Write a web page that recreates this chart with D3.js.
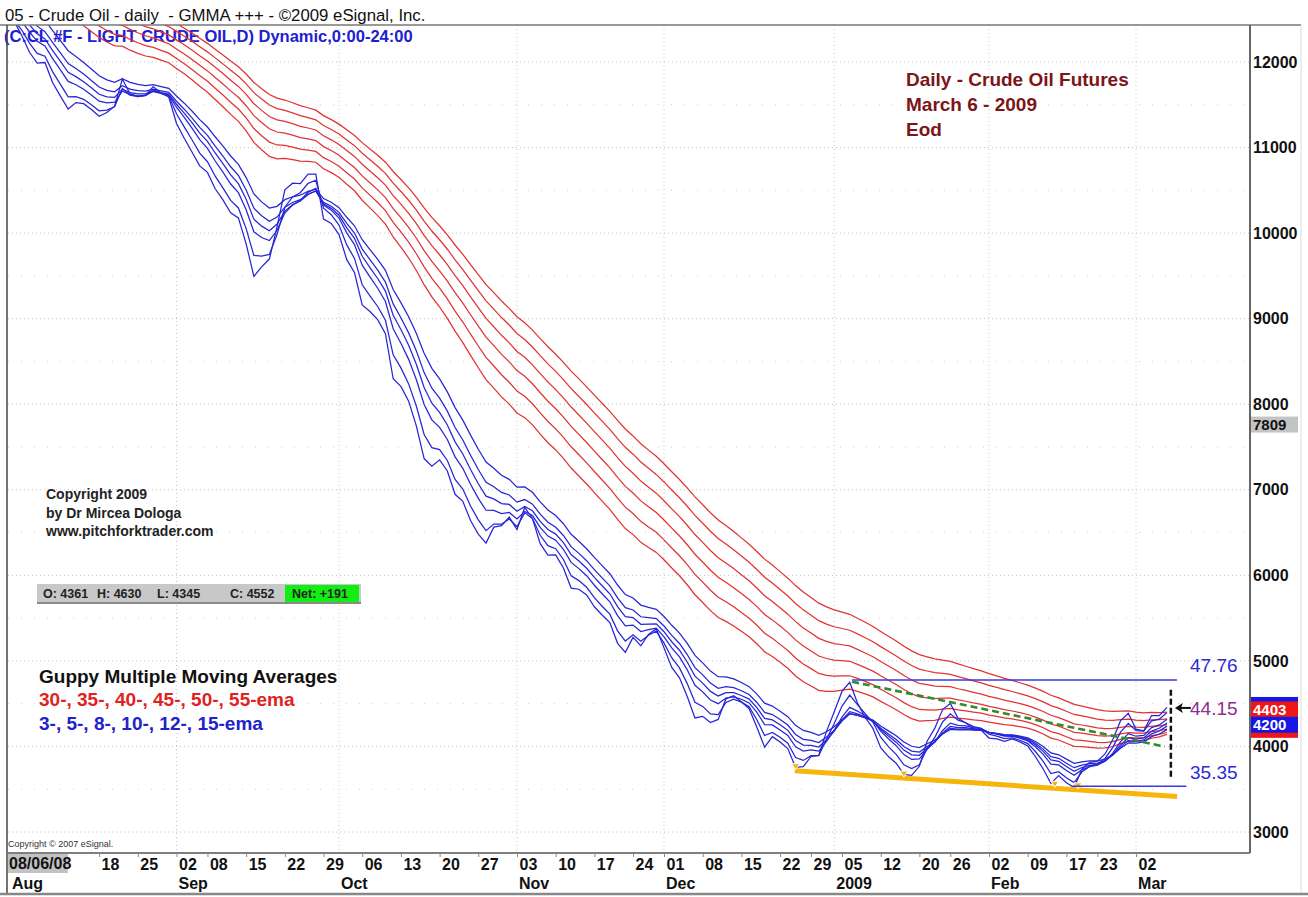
<!DOCTYPE html>
<html>
<head>
<meta charset="utf-8">
<script src="https://cdn.jsdelivr.net/npm/d3@7"></script>
<style>
  body { margin: 0; background: #fff; }
  svg { display: block; }
</style>
</head>
<body>
<svg id="chart" width="1308" height="897"></svg>
<script>
// Daily closes of CL #F, Aug 1 2008 .. Mar 6 2009 (price x 100, as on the axis)
const closesAug = [12510, 12141, 11917, 11858, 12002, 11520, 11445, 11301, 11600, 11501, 11377,
                   11287, 11453, 11556, 12118, 11459, 11563, 11627, 11815, 11559, 11546];
const closesSep = [10971, 10935, 10789, 10623, 10634, 10326, 10258, 10087, 10118, 9571, 9115,
                   9716, 9788, 10455, 10937, 10661, 10573, 10802, 10689, 9637, 10064];
const closesOct = [9853, 9397, 9388, 8781, 9006, 8895, 8659, 7770, 8119, 7863, 7454, 6985,
                   7185, 7425, 7089, 6675, 6784, 6415, 6322, 6273, 6750, 6596, 6781];
const closesNov = [6391, 7053, 6530, 6077, 6104, 6241, 5933, 5616, 5824, 5704, 5495, 5439,
                   5362, 4962, 4993, 5450, 5077, 5444, 5443];
const closesDec = [4928, 4696, 4679, 4367, 4081, 4371, 4207, 4352, 4798, 4628, 4451, 4360,
                   4006, 3760, 4236, 3991, 3898, 3535, 3771, 4002, 3903, 4460];
const closesJan = [4634, 4881, 4858, 4263, 4170, 4083, 3759, 3778, 3728, 3540, 3651, 3874,
                   4355, 4367, 4647, 4573, 4158, 4216, 4144, 4168];
const closesFeb = [4008, 4078, 4032, 4117, 4017, 3956, 3755, 3594, 3398, 3751, 3493, 3462,
                   3948, 3894, 3844, 3996, 4250, 4522, 4476];
const closesMar = [4015, 4165, 4538, 4361, 4552];

const holidays = ["2008-09-01", "2008-11-27", "2008-12-25", "2009-01-01", "2009-01-19", "2009-02-16"];

// GMMA periods and each average's value on the first bar
const fastPeriods = [3, 5, 8, 10, 12, 15];
const fastStart   = [12480, 12490, 12570, 12640, 12720, 12850];
const slowPeriods = [30, 35, 40, 45, 50, 55];
const slowStart   = [13050, 13150, 13240, 13320, 13390, 13450];

const yTicks      = [3000, 4000, 5000, 6000, 7000, 8000, 9000, 10000, 11000, 12000];
const yMinorTicks = [3500, 4500, 5500, 6500, 7500, 8500, 9500, 10500, 11500];

// drawn annotations (bar index, price)
const highLevel   = 4776;   // 47.76
const lastLevel   = 4415;   // 44.15
const lowLevel    = 3535;   // 35.35
const downTrend   = [[108.3, 4757], [148.7, 3998]];
const supportLine = [[100.9, 3717], [150.3, 3414]];
const supportTouches = [101, 115, 134.5, 137.5];
const lastBarMarker  = [149.5, 4664, 3636];

const ohlc = [["O: 4361", 43], ["H: 4630", 97], ["L: 4345", 157], ["C: 4552", 230]];
const netText = "Net: +191";

const FONT = "'Liberation Sans', Arial, Helvetica, sans-serif";
const BLUE = "#2626d6", RED = "#e23232";

const closes = [].concat(closesAug, closesSep, closesOct, closesNov, closesDec, closesJan, closesFeb, closesMar);

const keyFmt = d3.timeFormat("%Y-%m-%d");
const holidaySet = new Set(holidays);
const dates = d3.timeDay.range(new Date(2008, 7, 1), new Date(2009, 2, 7))
  .filter(d => d.getDay() !== 0 && d.getDay() !== 6 && !holidaySet.has(keyFmt(d)));

function ema(values, n, start) {
  const k = 2 / (n + 1);
  let prev = start;
  return values.map((v, i) => {
    if (i > 0) prev = prev + k * (v - prev);
    return prev;
  });
}

const fast = fastPeriods.map((p, i) => ema(closes, p, fastStart[i]));
const slow = slowPeriods.map((p, i) => ema(closes, p, slowStart[i]));

const plot = { l: 8, r: 1250, t: 25, b: 853 };
const svg = d3.select("#chart").attr("font-family", FONT);

const x = d3.scaleLinear().domain([0, dates.length - 1]).range([14, 1167]);
const y = d3.scaleLinear().domain([3000, 12000]).range([832, 62]);

svg.append("rect").attr("width", 1308).attr("height", 897).attr("fill", "#fff");

svg.append("clipPath").attr("id", "plotClip")
  .append("rect")
  .attr("x", plot.l).attr("y", plot.t)
  .attr("width", plot.r - plot.l).attr("height", plot.b - plot.t);

// month starts
const monthIdx = d3.range(dates.length).filter(i => i === 0 || dates[i].getMonth() !== dates[i - 1].getMonth());

// grid
const grid = svg.append("g");
grid.selectAll(".hmaj").data(yTicks).join("line")
  .attr("x1", plot.l).attr("x2", plot.r)
  .attr("y1", d => y(d)).attr("y2", d => y(d))
  .attr("stroke", "#c4c4c4").attr("stroke-dasharray", "1,3");
grid.selectAll(".hmin").data(yMinorTicks).join("line")
  .attr("x1", plot.l).attr("x2", plot.r)
  .attr("y1", d => y(d)).attr("y2", d => y(d))
  .attr("stroke", "#d0d0d0").attr("stroke-dasharray", "1,12");
grid.selectAll(".vmaj").data(monthIdx.filter(i => i > 0)).join("line")
  .attr("x1", d => x(d)).attr("x2", d => x(d))
  .attr("y1", plot.t).attr("y2", plot.b)
  .attr("stroke", "#c4c4c4").attr("stroke-dasharray", "1,3");

// subtitle sits under the averages
svg.append("text").attr("x", 4).attr("y", 42)
  .attr("font-size", 16.5).attr("font-weight", "bold").attr("fill", "#2020d0")
  .text("(C:CL #F - LIGHT CRUDE OIL,D) Dynamic,0:00-24:00");

// averages
const line = d3.line().x((d, i) => x(i)).y(d => y(d));
const lines = svg.append("g").attr("clip-path", "url(#plotClip)").attr("fill", "none");
lines.selectAll(".slow").data(slow).join("path")
  .attr("d", line).attr("stroke", RED).attr("stroke-width", 1.25);
lines.selectAll(".fast").data(fast).join("path")
  .attr("d", line).attr("stroke", BLUE).attr("stroke-width", 1.25);

// annotations
const ann = svg.append("g").attr("clip-path", "url(#plotClip)");
ann.append("line")
  .attr("x1", x(supportLine[0][0])).attr("y1", y(supportLine[0][1]))
  .attr("x2", x(supportLine[1][0])).attr("y2", y(supportLine[1][1]))
  .attr("stroke", "#f5b50a").attr("stroke-width", 5);
const supY = i => {
  const [a, b] = supportLine;
  return a[1] + (b[1] - a[1]) * (i - a[0]) / (b[0] - a[0]);
};
ann.selectAll(".touch").data(supportTouches).join("path")
  .attr("d", i => {
    const cx = x(i), cy = y(supY(i)) - 3;
    return `M${cx - 4},${cy - 4}L${cx + 4},${cy - 4}L${cx},${cy + 2}Z`;
  })
  .attr("fill", "#f5b50a").attr("stroke", "#fff").attr("stroke-width", 1);

ann.append("line")
  .attr("x1", x(108.3)).attr("x2", x(150.3))
  .attr("y1", y(highLevel)).attr("y2", y(highLevel))
  .attr("stroke", "#3a3ae0").attr("stroke-width", 1.5);
ann.append("line")
  .attr("x1", x(136.8)).attr("x2", x(151.5))
  .attr("y1", y(lowLevel)).attr("y2", y(lowLevel))
  .attr("stroke", "#3a3ae0").attr("stroke-width", 1.5);
ann.append("line")
  .attr("x1", x(downTrend[0][0])).attr("y1", y(downTrend[0][1]))
  .attr("x2", x(downTrend[1][0])).attr("y2", y(downTrend[1][1]))
  .attr("stroke", "#2e8b2e").attr("stroke-width", 2.6).attr("stroke-dasharray", "7,4");
ann.append("line")
  .attr("x1", x(lastBarMarker[0])).attr("x2", x(lastBarMarker[0]))
  .attr("y1", y(lastBarMarker[1])).attr("y2", y(lastBarMarker[2]))
  .attr("stroke", "#111").attr("stroke-width", 2.5).attr("stroke-dasharray", "6,3");

const ay = y(lastLevel) - 3;
const ax = x(lastBarMarker[0]) + 4;
ann.append("line").attr("x1", ax + 5).attr("x2", ax + 16).attr("y1", ay).attr("y2", ay)
  .attr("stroke", "#111").attr("stroke-width", 2);
ann.append("path").attr("d", `M${ax},${ay}L${ax + 8},${ay - 5}L${ax + 6},${ay}L${ax + 8},${ay + 5}Z`)
  .attr("fill", "#111");

const labX = x(dates.length - 1) + 23;
svg.append("text").attr("x", labX).attr("y", y(highLevel) - 8)
  .attr("font-size", 19).attr("fill", "#2b2bd8").text(d3.format(".2f")(highLevel / 100));
svg.append("text").attr("x", labX).attr("y", y(lastLevel) + 4)
  .attr("font-size", 19).attr("fill", "#8e2e8e").text(d3.format(".2f")(lastLevel / 100));
svg.append("text").attr("x", labX).attr("y", y(lowLevel) - 7)
  .attr("font-size", 19).attr("fill", "#2b2bd8").text(d3.format(".2f")(lowLevel / 100));

// text blocks
svg.append("text").attr("x", 5).attr("y", 21)
  .attr("font-size", 16.8).attr("fill", "#111")
  .text("05 - Crude Oil - daily  - GMMA +++ - \u00a92009 eSignal, Inc.")
  .attr("xml:space", "preserve").style("white-space", "pre");

const info = svg.append("g").attr("font-size", 19).attr("font-weight", "bold").attr("fill", "#7c1518");
["Daily - Crude Oil Futures", "March 6 - 2009", "Eod"].forEach((t, i) =>
  info.append("text").attr("x", 906).attr("y", 86 + i * 25).text(t));

const copy = svg.append("g").attr("font-size", 14).attr("font-weight", "bold").attr("fill", "#222");
["Copyright 2009", "by Dr Mircea Dologa", "www.pitchforktrader.com"].forEach((t, i) =>
  copy.append("text").attr("x", 46).attr("y", 499 + i * 18.5).text(t));

// OHLC strip
svg.append("rect").attr("x", 37).attr("y", 584).attr("width", 324).attr("height", 19)
  .attr("fill", "#c8c8c8");
svg.append("line").attr("x1", 37).attr("x2", 361).attr("y1", 603).attr("y2", 603)
  .attr("stroke", "#8a8a8a").attr("stroke-width", 2);
svg.append("rect").attr("x", 285).attr("y", 585).attr("width", 74).attr("height", 17)
  .attr("fill", "#11ee11");
const ohlcG = svg.append("g").attr("font-size", 12.5).attr("font-weight", "bold").attr("fill", "#222");
ohlc.forEach(([t, px]) => ohlcG.append("text").attr("x", px).attr("y", 598).text(t));
ohlcG.append("text").attr("x", 292).attr("y", 598).text(netText);

const legend = svg.append("g").attr("font-size", 19).attr("font-weight", "bold");
legend.append("text").attr("x", 39).attr("y", 683).attr("fill", "#111").text("Guppy Multiple Moving Averages");
legend.append("text").attr("x", 39).attr("y", 706).attr("fill", "#e02222")
  .text(slowPeriods.map(p => p + "-").join(", ") + "ema");
legend.append("text").attr("x", 39).attr("y", 730).attr("fill", "#2222cc")
  .text(fastPeriods.map(p => p + "-").join(", ") + "ema");

svg.append("text").attr("x", 8).attr("y", 847).attr("font-size", 9).attr("fill", "#333")
  .text("Copyright \u00a9 2007 eSignal.");

// frame
const frame = svg.append("g").attr("fill", "none");
frame.append("line").attr("x1", 0).attr("x2", 1301).attr("y1", plot.t).attr("y2", plot.t)
  .attr("stroke", "#777").attr("stroke-width", 1.5);
frame.append("line").attr("x1", 7).attr("x2", 7).attr("y1", plot.t).attr("y2", 894)
  .attr("stroke", "#444").attr("stroke-width", 1.5);
frame.append("line").attr("x1", plot.l).attr("x2", plot.r).attr("y1", plot.b).attr("y2", plot.b)
  .attr("stroke", "#555").attr("stroke-width", 1.5);
frame.append("line").attr("x1", plot.r).attr("x2", plot.r).attr("y1", plot.t).attr("y2", plot.b)
  .attr("stroke", "#666").attr("stroke-width", 2);
frame.append("line").attr("x1", 1301).attr("x2", 1301).attr("y1", plot.t).attr("y2", 894)
  .attr("stroke", "#dcdcdc").attr("stroke-width", 1);
frame.append("line").attr("x1", 0).attr("x2", 1308).attr("y1", 894).attr("y2", 894)
  .attr("stroke", "#888").attr("stroke-width", 2.5);

// x axis
const dayFmt = d3.timeFormat("%d");
const weekIdx = d3.range(dates.length).filter(i => i > 0 &&
  +d3.timeMonday.floor(dates[i]) !== +d3.timeMonday.floor(dates[i - 1]) && x(i) > 80);
const xAxis = d3.axisBottom(x).tickValues(weekIdx).tickSize(4).tickPadding(2)
  .tickFormat(i => dayFmt(dates[i]));
svg.append("rect").attr("x", 8).attr("y", plot.b + 1).attr("width", 60).attr("height", 19).attr("fill", "#c2c2c2");
const gx = svg.append("g").attr("transform", `translate(0,${plot.b})`).call(xAxis);
gx.select(".domain").remove();
gx.attr("font-family", FONT).attr("font-size", 16).attr("font-weight", "bold");
gx.selectAll("text").attr("text-anchor", "start").attr("dx", 2).attr("fill", "#111");
gx.selectAll("line").attr("stroke", "#888");
svg.append("text").attr("x", 9).attr("y", plot.b + 16).attr("font-size", 16).attr("font-weight", "bold")
  .attr("fill", "#111").text(d3.timeFormat("%m/%d/%y")(dates[3]));

const monthFmt = d => d.getMonth() === 0 ? d3.timeFormat("%Y")(d) : d3.timeFormat("%b")(d);
svg.append("g").attr("font-size", 16).attr("font-weight", "bold").attr("fill", "#111")
  .selectAll("text").data(monthIdx).join("text")
  .attr("x", i => i === 0 ? 12 : x(i) + 2).attr("y", 889)
  .text(i => monthFmt(dates[i]));

// y axis
const yAxis = d3.axisRight(y).tickValues(yTicks).tickSize(0).tickPadding(3).tickFormat(d3.format("d"));
const gy = svg.append("g").attr("transform", `translate(${plot.r},0)`).call(yAxis);
gy.select(".domain").remove();
gy.attr("font-family", FONT).attr("font-size", 16).attr("font-weight", "bold");
gy.selectAll("text").attr("fill", "#111");

// price tags on the axis
const tags = svg.append("g").attr("font-size", 15).attr("font-weight", "bold");
function tag(v, top, h, fill, color, label) {
  tags.append("rect").attr("x", plot.r + 1).attr("y", y(v) + top).attr("width", 47).attr("height", h).attr("fill", fill);
  if (label) tags.append("text").attr("x", plot.r + 3).attr("y", y(v) + top + h / 2).attr("dy", "0.36em")
    .attr("fill", color).text(label);
}
tag(7809, -4, 16, "#c4c4c4", "#111", "7809");
tag(4403, -15, 16, "#1616e6");
tag(4200, -7.5, 16, "#ee1616");
tag(4403, -10.5, 15.5, "#ee1616", "#fff", "4403");
tag(4200, -12.6, 16, "#1616e6", "#fff", "4200");
</script>
</body>
</html>
